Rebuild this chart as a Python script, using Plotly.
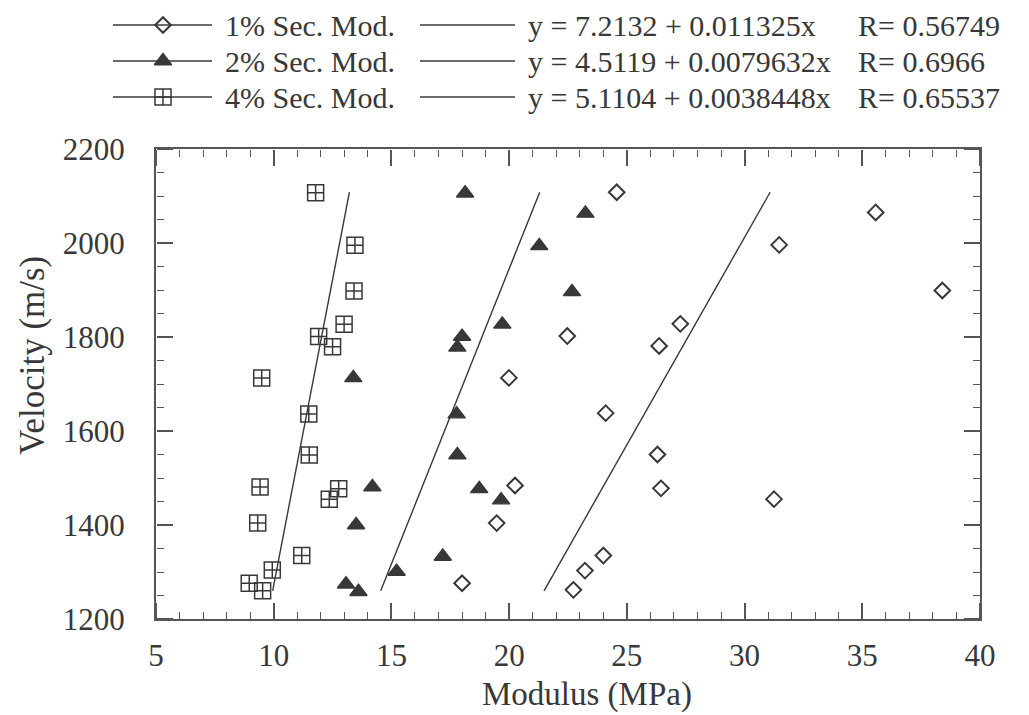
import plotly.graph_objects as go

# Secant modulus (MPa) against wave velocity (m/s) at three strain levels
vel_1 = [2108, 2065, 1996, 1899, 1828, 1802, 1781, 1713, 1638, 1550, 1484, 1478, 1455, 1404, 1335, 1303, 1276, 1262]
mod_1 = [24.57, 35.57, 31.47, 38.4, 27.27, 22.47, 26.37, 19.99, 24.1, 26.3, 20.25, 26.45, 31.25, 19.47, 24.0, 23.22, 18.0, 22.73]

vel_2 = [2106, 2063, 1994, 1896, 1827, 1801, 1778, 1713, 1636, 1549, 1481, 1477, 1453, 1400, 1333, 1301, 1274, 1258]
mod_2 = [18.13, 23.24, 21.28, 22.67, 19.71, 18.0, 17.8, 13.38, 17.77, 17.8, 14.19, 18.73, 19.66, 13.5, 17.18, 15.22, 13.07, 13.6]

vel_4 = [2107, 1995, 1898, 1827, 1801, 1779, 1713, 1636, 1549, 1481, 1477, 1455, 1404, 1335, 1304, 1276, 1260]
mod_4 = [11.78, 13.45, 13.41, 12.99, 11.91, 12.5, 9.49, 11.49, 11.51, 9.42, 12.76, 12.36, 9.32, 11.19, 9.94, 8.96, 9.53]

# Linear fits: modulus = a + b * velocity
fit_a = [7.2132, 4.5119, 5.1104]
fit_b = [0.011325, 0.0079632, 0.0038448]
fit_a_txt = ["7.2132", "4.5119", "5.1104"]
fit_b_txt = ["0.011325", "0.0079632", "0.0038448"]
fit_r = ["0.56749", "0.6966", "0.65537"]
fit_vel = [1260, 2108]

series_names = ["1% Sec. Mod.", "2% Sec. Mod.", "4% Sec. Mod."]

X_RANGE = [5, 40]
Y_RANGE = [1200, 2200]

INK = "#383838"
AXIS = "#555555"
FONT = "Liberation Serif"

# page size and plot frame in pixels
W, H = 1029, 715
FRAME_L, FRAME_R, FRAME_T, FRAME_B = 156, 980, 149, 619
KEY_H = 118  # height of the key strip above the frame


def px_x(p):
    return p / W


def px_y(p):
    return 1 - p / H


marker_styles = [
    dict(symbol="diamond-open", size=12, color=INK, line=dict(width=2, color=INK)),
    dict(symbol="triangle-up", size=15, color=INK, line=dict(width=1.4, color=INK)),
    dict(symbol="square-cross-open", size=16, color=INK, line=dict(width=1.5, color=INK)),
]

fig = go.Figure()

# fitted lines
for a, b in zip(fit_a, fit_b):
    xs = [a + b * v for v in fit_vel]
    fig.add_trace(go.Scatter(x=xs, y=fit_vel, mode="lines",
                             line=dict(color=INK, width=1.4), showlegend=False,
                             hoverinfo="skip"))

# measured points
for name, (xs, ys), mk in zip(series_names, [(mod_1, vel_1), (mod_2, vel_2), (mod_4, vel_4)], marker_styles):
    fig.add_trace(go.Scatter(x=xs, y=ys, mode="markers", marker=mk, name=name,
                             showlegend=False))

# empty traces that carry the helper axes (labels and frame ticks)
for xa in ["x3", "x4", "x5"]:
    fig.add_trace(go.Scatter(x=[], y=[], xaxis=xa, yaxis="y", showlegend=False, hoverinfo="skip"))
for ya in ["y3", "y4", "y5"]:
    fig.add_trace(go.Scatter(x=[], y=[], xaxis="x", yaxis=ya, showlegend=False, hoverinfo="skip"))

x_dom = [px_x(FRAME_L), px_x(FRAME_R)]
y_dom = [px_y(FRAME_B), px_y(FRAME_T)]

label_axis = dict(
    showline=False, showgrid=False, zeroline=False, ticks="outside",
    tickcolor="rgba(0,0,0,0)", showticklabels=True,
    tickfont=dict(family=FONT, size=31, color=INK),
)
# tick marks pointing into the frame from each edge
tick_axis = dict(
    showline=False, showgrid=False, zeroline=False, showticklabels=False,
    ticks="outside", ticklen=16, tickwidth=1.5, tickcolor=AXIS, anchor="free",
)
x_ticks = dict(range=X_RANGE, dtick=5, tick0=5, overlaying="x",
               minor=dict(dtick=1, ticks="outside", ticklen=7, tickcolor=AXIS, tickwidth=1.3),
               **tick_axis)
y_ticks = dict(range=Y_RANGE, dtick=200, tick0=1200, overlaying="y",
               minor=dict(dtick=50, ticks="outside", ticklen=7, tickcolor=AXIS, tickwidth=1.3),
               **tick_axis)

fig.update_layout(
    # frame
    xaxis=dict(domain=x_dom, range=X_RANGE, anchor="y", showline=True, mirror=True,
               linecolor=AXIS, linewidth=1.5, ticks="", showticklabels=False,
               showgrid=False, zeroline=False),
    yaxis=dict(domain=y_dom, range=Y_RANGE, anchor="x", showline=True, mirror=True,
               linecolor=AXIS, linewidth=1.5, ticks="", showticklabels=False,
               showgrid=False, zeroline=False),
    # tick labels
    xaxis3=dict(overlaying="x", anchor="y", side="bottom", range=X_RANGE, dtick=5, tick0=5,
                ticklen=9, **label_axis),
    yaxis3=dict(overlaying="y", anchor="x", side="left", range=Y_RANGE, dtick=200, tick0=1200,
                ticklen=24, **label_axis),
    # tick marks: bottom, top, left, right edges
    xaxis4=dict(side="top", position=y_dom[0], **x_ticks),
    xaxis5=dict(side="bottom", position=y_dom[1], **x_ticks),
    yaxis4=dict(side="right", position=x_dom[0], **y_ticks),
    yaxis5=dict(side="left", position=x_dom[1], **y_ticks),
    # strip above the frame holding the key, in pixel units
    xaxis2=dict(domain=[0, 1], range=[0, W], anchor="y2", visible=False, fixedrange=True),
    yaxis2=dict(domain=[px_y(KEY_H), 1], range=[KEY_H, 0], anchor="x2", visible=False,
                fixedrange=True),
)

annotations = []
row_y = [25, 61, 97]
key_font = dict(family=FONT, size=30, color=INK)

for name, mk, ry, at, bt, r in zip(series_names, marker_styles, row_y, fit_a_txt, fit_b_txt, fit_r):
    # marker key: short line with the symbol in the middle
    fig.add_trace(go.Scatter(x=[113, 212], y=[ry, ry], xaxis="x2", yaxis="y2", mode="lines",
                             line=dict(color=INK, width=1.4), showlegend=False, hoverinfo="skip"))
    fig.add_trace(go.Scatter(x=[163], y=[ry], xaxis="x2", yaxis="y2", mode="markers",
                             marker=mk, showlegend=False, hoverinfo="skip"))
    annotations.append(dict(text=name, xref="paper", yref="paper", x=px_x(223), y=px_y(ry),
                            xanchor="left", yanchor="middle", showarrow=False, font=key_font))
    # fit key: plain line, equation and correlation coefficient
    fig.add_trace(go.Scatter(x=[420, 515], y=[ry, ry], xaxis="x2", yaxis="y2", mode="lines",
                             line=dict(color=INK, width=1.4), showlegend=False, hoverinfo="skip"))
    annotations.append(dict(text=f"y = {at} + {bt}x", xref="paper", yref="paper",
                            x=px_x(526), y=px_y(ry), xanchor="left", yanchor="middle",
                            showarrow=False, font=key_font))
    annotations.append(dict(text=f"R= {r}", xref="paper", yref="paper",
                            x=px_x(856), y=px_y(ry), xanchor="left", yanchor="middle",
                            showarrow=False, font=key_font))

# axis titles
annotations.append(dict(text="Modulus (MPa)", xref="paper", yref="paper",
                        x=px_x(587), y=px_y(694), xanchor="center", yanchor="middle",
                        showarrow=False, font=dict(family=FONT, size=33, color=INK)))
annotations.append(dict(text="Velocity (m/s)", xref="paper", yref="paper",
                        x=px_x(33), y=px_y(356), xanchor="center", yanchor="middle",
                        textangle=-90, showarrow=False, font=dict(family=FONT, size=35, color=INK)))

fig.update_layout(
    width=W, height=H,
    margin=dict(l=0, r=0, t=0, b=0, pad=0, autoexpand=False),
    paper_bgcolor="white", plot_bgcolor="rgba(0,0,0,0)",
    showlegend=False,
    annotations=annotations,
)

fig.write_html("out.html")
